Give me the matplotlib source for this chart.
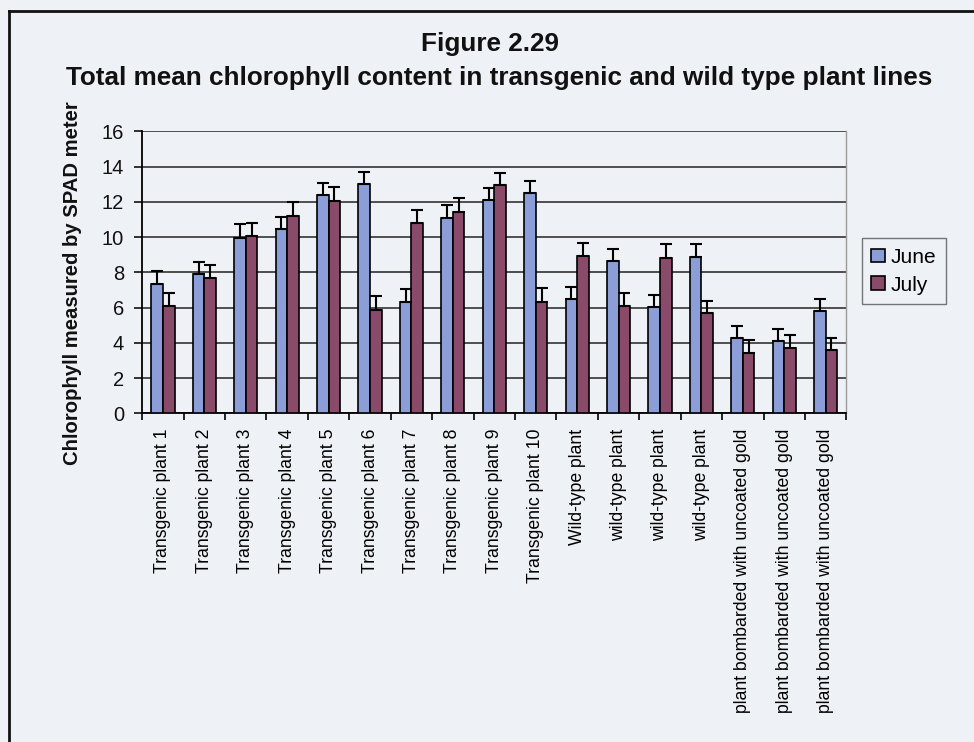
import matplotlib
matplotlib.use("Agg")
import matplotlib.pyplot as plt
import numpy as np
from matplotlib.lines import Line2D

plt.rcParams['font.family'] = ['Liberation Sans', 'DejaVu Sans']

# plant lines on the x axis
categories = ['Transgenic plant 1', 'Transgenic plant 2', 'Transgenic plant 3',
              'Transgenic plant 4', 'Transgenic plant 5', 'Transgenic plant 6',
              'Transgenic plant 7', 'Transgenic plant 8', 'Transgenic plant 9',
              'Transgenic plant 10', 'Wild-type plant', 'wild-type plant',
              'wild-type plant', 'wild-type plant',
              'plant bombarded with uncoated gold',
              'plant bombarded with uncoated gold',
              'plant bombarded with uncoated gold']

# mean SPAD readings
june = [7.35, 7.9, 9.97, 10.45, 12.4, 13.02, 6.33, 11.1, 12.1, 12.48,
        6.48, 8.66, 6.01, 8.88, 4.25, 4.08, 5.8]
july = [6.08, 7.68, 10.05, 11.22, 12.07, 5.85, 10.8, 11.42, 12.95, 6.33,
        8.9, 6.11, 8.81, 5.67, 3.4, 3.69, 3.59]

# standard errors (drawn upward only)
june_err = [0.75, 0.7, 0.76, 0.7, 0.68, 0.7, 0.72, 0.71, 0.7, 0.72,
            0.7, 0.68, 0.7, 0.7, 0.7, 0.68, 0.7]
july_err = [0.76, 0.75, 0.75, 0.76, 0.78, 0.78, 0.76, 0.77, 0.7, 0.8,
            0.74, 0.73, 0.77, 0.7, 0.76, 0.77, 0.7]

bg = '#eef1f5'
june_col = '#8b9ed8'
july_col = '#8a4a69'

fig = plt.figure(figsize=(9.74, 7.42), dpi=100, facecolor=bg)
ax = fig.add_axes([0.146, 0.443, 0.723, 0.38])
ax.set_facecolor('none')

x = np.arange(len(categories))
w = 0.28
zeros = np.zeros(len(x))
ax.bar(x - w / 2, june, w, color=june_col, edgecolor='black', linewidth=1.2,
       label='June', zorder=3)
ax.bar(x + w / 2, july, w, color=july_col, edgecolor='black', linewidth=1.2,
       label='July', zorder=3)
ax.errorbar(x - w / 2, june, yerr=[zeros, june_err], fmt='none', ecolor='black',
            elinewidth=1.5, capsize=4, capthick=1.5, zorder=4)
ax.errorbar(x + w / 2, july, yerr=[zeros, july_err], fmt='none', ecolor='black',
            elinewidth=1.5, capsize=4, capthick=1.5, zorder=4)

ax.set_xlim(-0.5, len(x) - 0.5)
ax.set_ylim(0, 16)
ax.set_yticks(range(0, 17, 2))
ax.yaxis.grid(True, color='#333333', linewidth=1.2, zorder=0)
ax.tick_params(axis='y', labelsize=14.5, length=6, width=1.2, direction='out',
               pad=7, colors='#111111')

ax.set_xticks(x)
ax.set_xticklabels(categories, rotation=90, fontsize=12.7, va='top', ha='center')
ax.tick_params(axis='x', length=0, pad=11)
ax.set_xticks(np.arange(-0.5, len(x), 1), minor=True)
ax.tick_params(axis='x', which='minor', length=5, width=1.2, direction='out')

for s in ['left', 'bottom']:
    ax.spines[s].set_linewidth(1.3)
    ax.spines[s].set_color('black')
ax.spines['top'].set_visible(False)
ax.spines['right'].set_color('#9a9a9a')
ax.spines['right'].set_linewidth(1.0)

ax.set_ylabel('Chlorophyll measured by SPAD meter', fontsize=14.6,
              fontweight='bold', color='#111111')
ax.yaxis.set_label_coords(-0.085, 0.46)

leg = ax.legend(loc='upper left', bbox_to_anchor=(1.022, 0.62), fontsize=15,
                frameon=True, fancybox=False, edgecolor='#555555',
                handlelength=0.65, handleheight=0.65, handletextpad=0.3,
                borderpad=0.45, labelspacing=0.42, borderaxespad=0)
leg.get_frame().set_facecolor('none')
leg.get_frame().set_linewidth(1.0)

narrow = ['Liberation Sans Narrow', 'Liberation Sans', 'DejaVu Sans']
fig.text(0.503, 0.941, 'Figure 2.29', ha='center', va='center', fontsize=18.8,
         fontweight='bold', family=narrow, color='#111111')
fig.text(0.512, 0.895, 'Total mean chlorophyll content in transgenic and wild type plant lines',
         ha='center', va='center', fontsize=18.8, fontweight='bold', family=narrow,
         color='#111111')

# outer frame of the page box
fig.add_artist(Line2D([0.0095, 1.0], [0.985, 0.985], transform=fig.transFigure,
                      color='#111111', linewidth=2))
fig.add_artist(Line2D([0.0095, 0.0095], [0.0, 0.985], transform=fig.transFigure,
                      color='#111111', linewidth=2))

fig.savefig('out.png', dpi=100, facecolor=bg)
